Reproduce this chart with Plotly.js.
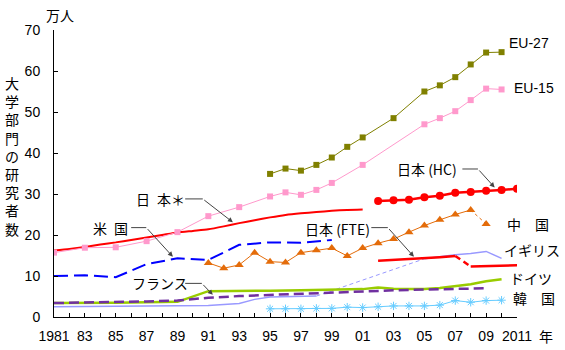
<!DOCTYPE html>
<html>
<head>
<meta charset="utf-8">
<script src="https://cdn.plot.ly/plotly-3.0.1.min.js"></script>
<style>html,body{margin:0;padding:0;background:#fff;}#chart{width:565px;height:350px;}</style>
</head>
<body>
<div id="chart"></div>
<script>
// ---- data ----
const yearsEU27 = [1995,1996,1997,1998,1999,2000,2001,2003,2005,2006,2007,2008,2009,2010];
const valsEU27  = [34.9,36.2,35.7,37.1,38.9,41.5,43.8,48.5,55.0,56.5,58.5,61.6,64.5,64.6];

const yearsEU15 = [1981,1983,1985,1987,1989,1991,1993,1995,1996,1997,1998,1999,2001,2005,2006,2007,2008,2009,2010];
const valsEU15  = [15.7,16.9,17.0,18.5,20.7,24.6,26.8,29.4,30.4,29.8,31.0,32.7,37.1,47.0,48.5,50.2,52.9,55.7,55.5];

const yearsJpStar = [1981,1982,1983,1984,1985,1986,1987,1988,1989,1990,1991,1992,1993,1994,1995,1996,1997,1998,1999,2000,2001];
const valsJpStar  = [16.2,16.6,17.1,17.7,18.2,18.8,19.4,20.0,20.6,21.0,21.4,22.1,22.9,23.6,24.3,24.9,25.3,25.6,25.9,26.1,26.2];

const yearsUS = [1981,1983,1985,1987,1989,1991,1993,1995,1997,1999];
const valsUS  = [10.0,10.2,9.7,12.9,14.3,13.9,17.6,18.2,18.1,18.8];

const yearsJpHC = [2002,2003,2004,2005,2006,2007,2008,2009,2010,2011];
const valsJpHC  = [28.3,28.5,28.6,29.2,29.6,30.3,30.5,30.8,31.0,31.3];

const yearsChina = [1991,1992,1993,1994,1995,1996,1997,1998,1999,2000,2001,2002,2003,2004,2005,2006,2007,2008,2009];
const valsChina  = [13.2,11.9,12.7,15.7,13.5,13.3,15.7,16.3,16.8,14.9,16.8,18.0,19.0,20.7,22.3,23.7,25.0,26.1,22.7];

const yearsJpFTE = [2002,2003,2004,2005,2006,2007,2008,2009,2010,2011];
const valsJpFTE  = [13.7,13.9,14.1,14.3,14.6,14.9,12.3,12.4,12.5,12.6];

const yearsUK = [1981,1985,1989,1991,1993,1994,1995,1996,1997,1998,2005,2006,2007,2008,2009,2010];
const valsUK  = [2.5,2.6,2.7,2.8,3.3,4.3,4.9,5.0,5.0,5.1,14.2,14.7,15.2,15.5,16.0,14.3];

const yearsDE = [1981,1983,1985,1987,1989,1991,1993,1995,1997,1999,2000,2001,2002,2003,2004,2005,2006,2007,2008,2009,2010];
const valsDE  = [3.4,3.4,3.5,3.6,3.7,6.3,6.3,6.4,6.5,6.6,6.7,6.8,7.2,6.9,6.8,6.8,7.1,7.5,8.0,8.7,9.2];

const yearsFR = [1981,1983,1985,1987,1989,1991,1993,1995,1997,1999,2001,2003,2005,2007,2009];
const valsFR  = [3.4,3.5,3.6,3.8,4.0,4.7,5.1,5.4,5.6,6.0,6.3,6.5,6.7,6.9,7.0];

const yearsKR = [1995,1996,1997,1998,1999,2000,2001,2002,2003,2004,2005,2006,2007,2008,2009,2010];
const valsKR  = [2.0,2.0,2.0,2.1,2.1,2.4,2.3,2.5,2.7,2.7,2.7,2.9,4.0,3.6,4.0,4.1];

const tickYears  = [1981,1982,1983,1984,1985,1986,1987,1988,1989,1990,1991,1992,1993,1994,1995,1996,1997,1998,1999,2000,2001,2002,2003,2004,2005,2006,2007,2008,2009,2010,2011];
const tickLabels = ['1981','','83','','85','','87','','89','','91','','93','','95','','97','','99','','01','','03','','05','','07','','09','','2011'];
const yTicks = [0,10,20,30,40,50,60,70];

// ---- helpers ----
function seg(years, vals, from, to) {
  const xs = [], ys = [];
  years.forEach((y, i) => { if (y >= from && y <= to) { xs.push(y); ys.push(vals[i]); } });
  return {x: xs, y: ys};
}
function tr(d, color, width, dash, extra) {
  return Object.assign({type: 'scatter', mode: 'lines', x: d.x, y: d.y, hoverinfo: 'skip',
    line: {color: color, width: width, dash: dash || 'solid'}, showlegend: false}, extra || {});
}

const cOlive = '#808000', cPink = '#ff99cc', cRed = '#ff0000', cBlue = '#0000ff',
      cOrange = '#e46c0a', cLav = '#9999ff', cGreen = '#99cc00', cPurple = '#7030a0', cSky = '#66ccff';

const traces = [
  tr(seg(yearsUK, valsUK, 1981, 1998), cLav, 1.5),
  tr(seg(yearsUK, valsUK, 1998, 2005), cLav, 1, '4px,3px'),
  tr(seg(yearsUK, valsUK, 2005, 2011), cLav, 1.5),
  tr(seg(yearsKR, valsKR, 1981, 2011), cSky, 1, 'solid',
     {mode: 'lines+markers', marker: {symbol: 'asterisk-open', size: 7, color: cSky, line: {color: cSky, width: 1}}}),
  tr(seg(yearsDE, valsDE, 1981, 2011), cGreen, 2.5),
  tr(seg(yearsFR, valsFR, 1981, 2011), cPurple, 2.5, '10px,5px'),
  tr(seg(yearsChina, valsChina, 2008, 2009), cOrange, 1, '3px,3px'),
  tr(seg(yearsChina, valsChina, 1981, 2008), cOrange, 1),
  tr(seg(yearsChina, valsChina, 1981, 2009), cOrange, 1, 'solid',
     {mode: 'markers', marker: {symbol: 'triangle-up', size: 8, color: cOrange}}),
  tr(seg(yearsUS, valsUS, 1981, 2011), cBlue, 2, '14px,6px'),
  tr(seg(yearsJpFTE, valsJpFTE, 2002, 2007), cRed, 2.5),
  tr(seg(yearsJpFTE, valsJpFTE, 2007, 2008), cRed, 2.5, '6px,4px'),
  tr(seg(yearsJpFTE, valsJpFTE, 2008, 2011), cRed, 2.5),
  tr(seg(yearsJpStar, valsJpStar, 1981, 2011), cRed, 2, 'solid', {line: {color: cRed, width: 2, shape: 'spline', smoothing: 0.6}}),
  tr(seg(yearsJpHC, valsJpHC, 1981, 2011), cRed, 2.5, 'solid',
     {mode: 'lines+markers', marker: {symbol: 'circle', size: 8, color: cRed}}),
  tr(seg(yearsEU15, valsEU15, 1981, 2011), cPink, 1, 'solid',
     {mode: 'lines+markers', marker: {symbol: 'square', size: 6, color: cPink}}),
  tr(seg(yearsEU27, valsEU27, 1981, 2011), cOlive, 1, 'solid',
     {mode: 'lines+markers', marker: {symbol: 'square', size: 6, color: cOlive}})
];

const jp = 'Noto Sans CJK JP, sans-serif';
const lat = 'Liberation Sans, Noto Sans CJK JP, sans-serif';
const L = 54, R = 48, T = 30, B = 33, W = 565, H = 350;
const pw = W - L - R, ph = H - T - B;
const px = v => (v - L) / pw, py = v => (H - B - v) / ph;

function label(text, x, y, font, size, anchor) {
  return {xref: 'paper', yref: 'paper', x: px(x), y: py(y), text: text, showarrow: false,
          xanchor: anchor || 'center', yanchor: 'middle',
          font: {family: font, size: size || 14, color: '#000'}};
}
function arrow(x0, y0, x1, y1) {
  return {xref: 'x', yref: 'y', axref: 'x', ayref: 'y', x: x1, y: y1, ax: x0, ay: y0, text: '',
          showarrow: true, arrowhead: 2, arrowsize: 1, arrowwidth: 1, arrowcolor: '#444', standoff: 0, startstandoff: 0};
}
function hline(x0, x1, y) {
  return {type: 'line', xref: 'x', yref: 'y', x0: x0, x1: x1, y0: y, y1: y, line: {color: '#444', width: 1}};
}

const annotations = [
  label('万人', 60, 15, jp, 14),
  label('大<br>学<br>部<br>門<br>の<br>研<br>究<br>者<br>数', 12, 156, jp, 14),
  label('年', 546, 336, jp, 14),
  label('EU-27', 529, 43, lat, 14),
  label('EU-15', 534, 88, lat, 14),
  label('中\u3000国', 528, 224, jp, 14),
  label('イギリス', 532, 250, jp, 14),
  label('ドイツ', 531, 278, jp, 14),
  label('韓\u3000国', 534, 298, jp, 14),
  label('日本 (HC)', 427, 169, jp, 14),
  label('日本 (FTE)', 337, 229, jp, 14),
  label('日\u2002本＊', 160, 199, jp, 14),
  label('米\u2002国', 110, 228, jp, 14),
  label('フランス', 160, 283, jp, 14),
  arrow(2008.47, 36.1, 2009.55, 31.6),
  arrow(2002.63, 21.8, 2004.32, 14.7),
  arrow(1990.64, 28.8, 1992.59, 23.1),
  arrow(1986.98, 21.8, 1988.70, 14.7),
  arrow(1990.58, 8.2, 1991.29, 5.4)
];
const shapes = [
  hline(2007.46, 2008.47, 36.1),
  hline(2001.56, 2002.63, 21.8),
  hline(1989.50, 1990.64, 28.8),
  hline(1986.00, 1986.98, 21.8),
  hline(1989.50, 1990.58, 8.2)
];

const layout = {
  width: W, height: H,
  margin: {l: L, r: R, t: T, b: B, pad: 0},
  paper_bgcolor: '#fff', plot_bgcolor: '#fff',
  showlegend: false,
  font: {family: lat, size: 14, color: '#000'},
  xaxis: {range: [1981, 2011], tickmode: 'array', tickvals: tickYears, ticktext: tickLabels,
          ticks: 'inside', ticklen: 4, tickcolor: '#000', showgrid: false, zeroline: false,
          showline: true, linecolor: '#000', linewidth: 1, ticklabelstandoff: 6,
          tickfont: {family: lat, size: 14, color: '#000'}, fixedrange: true},
  yaxis: {range: [0, 70], tickmode: 'array', tickvals: yTicks,
          ticks: 'inside', ticklen: 4, tickcolor: '#000', showgrid: false, zeroline: false,
          showline: true, linecolor: '#000', linewidth: 1, ticklabelstandoff: 10,
          tickfont: {family: lat, size: 14, color: '#000'}, fixedrange: true},
  annotations: annotations,
  shapes: shapes
};

Plotly.newPlot('chart', traces, layout, {staticPlot: true, displayModeBar: false});
</script>
</body>
</html>
